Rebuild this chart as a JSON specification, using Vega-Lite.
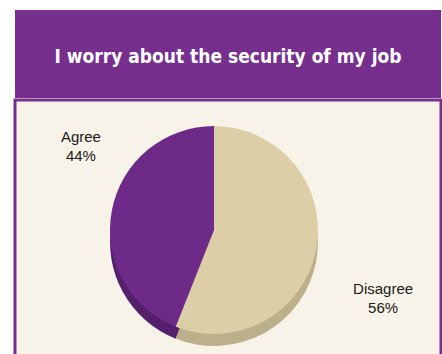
{
  "$schema": "https://vega.github.io/schema/vega-lite/v6.json",
  "background": "#ffffff",
  "padding": {"left": 13, "top": 10, "right": 3, "bottom": 0},
  "spacing": 0,
  "config": {"view": {"stroke": null}},
  "vconcat": [
    {
      "width": 426,
      "height": 88,
      "view": {"fill": "#772f8e", "stroke": null},
      "data": {"values": [{"title": "I worry about the security of my job"}]},
      "mark": {"type": "text", "font": "DejaVu Sans Condensed, Roboto, sans-serif", "fontWeight": "bold", "fontSize": 19, "color": "#ffffff", "align": "center", "baseline": "middle", "dy": 3},
      "encoding": {"text": {"field": "title"}}
    },
    {
      "width": 426,
      "height": 256,
      "view": {"fill": "#f7f3e8", "stroke": "#772f8e", "strokeWidth": 3, "strokeDash": [682, 426, 256]},
      "data": {"values": [{"answer": "Agree", "share": 0.44}, {"answer": "Disagree", "share": 0.56}]},
      "layer": [
        {
          "mark": {"type": "arc", "radius": 104, "xOffset": -14, "yOffset": 14},
          "encoding": {
            "theta": {"field": "share", "type": "quantitative", "stack": true},
            "color": {"field": "answer", "type": "nominal", "scale": {"domain": ["Agree", "Disagree"], "range": ["#55206b", "#bcb08b"]}, "legend": null},
            "order": {"field": "answer", "sort": "descending"}
          }
        },
        {
          "mark": {"type": "arc", "radius": 104, "xOffset": -14, "yOffset": 2},
          "encoding": {
            "theta": {"field": "share", "type": "quantitative", "stack": true},
            "color": {"field": "answer", "type": "nominal", "scale": {"domain": ["Agree", "Disagree"], "range": ["#6e2a88", "#dccfa8"]}, "legend": null},
            "order": {"field": "answer", "sort": "descending"}
          }
        },
        {
          "transform": [{"calculate": "datum.answer + '\\n' + format(datum.share, '.0%')", "as": "label"}],
          "mark": {"type": "text", "radius": 169, "xOffset": 4, "yOffset": -15, "font": "Liberation Sans", "fontSize": 15, "lineBreak": "\n", "lineHeight": 19, "color": "#1a1a1a", "align": "center", "baseline": "middle"},
          "encoding": {
            "theta": {"field": "share", "type": "quantitative", "stack": true, "scale": {"range": [0.276, 6.559]}},
            "detail": {"field": "answer"},
            "order": {"field": "answer", "sort": "descending"},
            "text": {"field": "label"}
          }
        }
      ],
      "resolve": {"scale": {"theta": "independent", "color": "independent"}}
    }
  ]
}
